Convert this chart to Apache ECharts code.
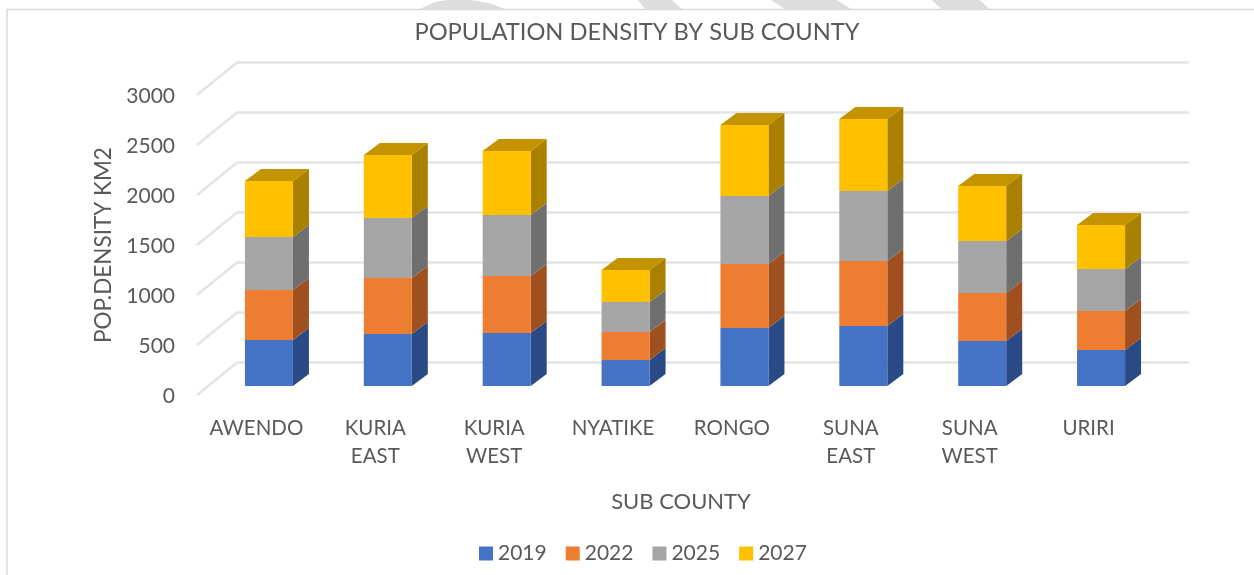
<!DOCTYPE html>
<html><head><meta charset="utf-8">
<style>html,body{margin:0;padding:0;background:#fff}#c{width:1254px;height:575px}</style>
<script src="https://cdn.jsdelivr.net/npm/echarts@6/dist/echarts.min.js"></script></head>
<body><div id="c"></div>
<script>
const categories = ['AWENDO','KURIA EAST','KURIA WEST','NYATIKE','RONGO','SUNA EAST','SUNA WEST','URIRI'];
const s2019 = [460,520,530,260,580,600,450,360];
const s2022 = [500,560,570,280,640,650,480,390];
const s2025 = [530,600,610,300,680,700,520,420];
const s2027 = [560,630,640,320,710,720,550,440];
const yearNames = ['2019','2022','2025','2027'];
const yearValues = [s2019,s2022,s2025,s2027];
const frontColors = ['#4472C4','#ED7D31','#A5A5A5','#FFC000'];
const sideColors = ['#2A4A85','#A04F1E','#6F6F6F','#AA8000'];
const topColors = ['#335A9E','#B9601F','#858585','#C49400'];
const yTicks = [0,500,1000,1500,2000,2500,3000];

const FONT = 'Lato';
const TXT = '#595959';
const WALL_DX = 40, WALL_DY = 32.5;
const DEPTH_X = 12.5, DEPTH_Y = 9;
const BAR_DX = 16, BAR_DY = 12, BAR_W = 48;

function poly(pts, color){
  return {type:'polygon', shape:{points:pts}, style:{fill:color}};
}
const wallSeries = {
  type:'custom', silent:true, z:1, data:yTicks.map(v=>[v]),
  encode:{y:0}, legendHoverLink:false, tooltip:{show:false},
  renderItem(p, api){
    const v = api.value(0);
    const a = api.coord([0, v]);
    const x0 = p.coordSys.x, x1 = p.coordSys.x + p.coordSys.width;
    const y = a[1];
    return {type:'polyline',
      shape:{points:[[x0,y],[x0+WALL_DX,y-WALL_DY],[x1+WALL_DX+1,y-WALL_DY]]},
      style:{fill:null, stroke:'#E4E4E4', lineWidth:2.5}};
  }
};
const rows = [];
categories.forEach((c,i)=>{
  let base = 0;
  yearValues.forEach((vals,k)=>{ rows[k] = rows[k]||[]; rows[k].push([i, base, base+vals[i]]); base += vals[i]; });
});
const barSeries = yearNames.map((name,k)=>({
  type:'custom', name, z:2+k, data:rows[k], encode:{x:0,y:[1,2]},
  itemStyle:{color:frontColors[k]},
  renderItem(p, api){
    const b = api.coord([api.value(0), api.value(1)]);
    const t = api.coord([api.value(0), api.value(2)]);
    const x = b[0] - BAR_W/2 + DEPTH_X, xr = x + BAR_W;
    const yb = b[1] - DEPTH_Y, yt = t[1] - DEPTH_Y;
    const ch = [
      poly([[xr,yb],[xr+BAR_DX,yb-BAR_DY],[xr+BAR_DX,yt-BAR_DY],[xr,yt]], sideColors[k]),
      poly([[x,yb],[xr,yb],[xr,yt],[x,yt]], frontColors[k])
    ];
    if(k===yearNames.length-1) ch.push(poly([[x,yt],[xr,yt],[xr+BAR_DX,yt-BAR_DY],[x+BAR_DX,yt-BAR_DY]], topColors[k]));
    return {type:'group', children:ch};
  }
}));
const WM = '#DDDDDD';
const wm = pts => ({type:'polygon', silent:true, shape:{points:pts}, style:{fill:WM}});
const chart = echarts.init(document.getElementById('c'), null, {renderer:'canvas'});
chart.setOption({
  animation:false,
  backgroundColor:'#fff',
  title:{text:'POPULATION DENSITY BY SUB COUNTY', left:632, textAlign:'center', top:15,
    textStyle:{fontFamily:FONT,fontSize:23.7,fontWeight:'normal',color:TXT}},
  legend:{data:yearNames, left:474, top:538, itemWidth:14, itemHeight:14, itemGap:19,
    icon:'rect', textStyle:{fontFamily:FONT,fontSize:21,color:TXT,padding:[0,0,0,0]}},
  grid:{left:197, right:106, top:95, bottom:180},
  xAxis:{type:'category', data:categories, axisLine:{show:false}, axisTick:{show:false},
    name:'SUB COUNTY', nameLocation:'middle', nameGap:96,
    nameTextStyle:{fontFamily:FONT,fontSize:22,color:TXT,padding:[0,0,0,17]},
    axisLabel:{interval:0, margin:19, fontFamily:FONT, fontSize:20.5, color:TXT, lineHeight:28,
      formatter:v=>v.replace(' ','\n')}},
  yAxis:{type:'value', min:0, max:3000, interval:500, axisLine:{show:false}, axisTick:{show:false}, splitLine:{show:false},
    name:'POP.DENSITY KM2', nameLocation:'middle', nameGap:81, nameRotate:90,
    nameTextStyle:{fontFamily:FONT,fontSize:22.5,color:TXT},
    axisLabel:{margin:22, fontFamily:FONT, fontSize:21, color:TXT, verticalAlign:'bottom', padding:[0,0,-12,0], formatter:v=>String(v)}},
  series:[wallSeries, ...barSeries],
  graphic:[
    wm([[420,9],[428,5],[437,1.5],[448,0],[470,0],[480,1.5],[492,4],[505,9]]),
    wm([[638,0],[672,0],[682,9],[645,9]]),
    wm([[771,0],[837,0],[851,9],[785,9]]),
    wm([[932,0],[980,0],[989,9],[941,9]]),
    {type:'polyline', silent:true, shape:{points:[[7,575],[7,9.5],[1254,9.5]]}, style:{fill:null,stroke:'#D9D9D9',lineWidth:1.5}}
  ]
});
</script></body></html>
